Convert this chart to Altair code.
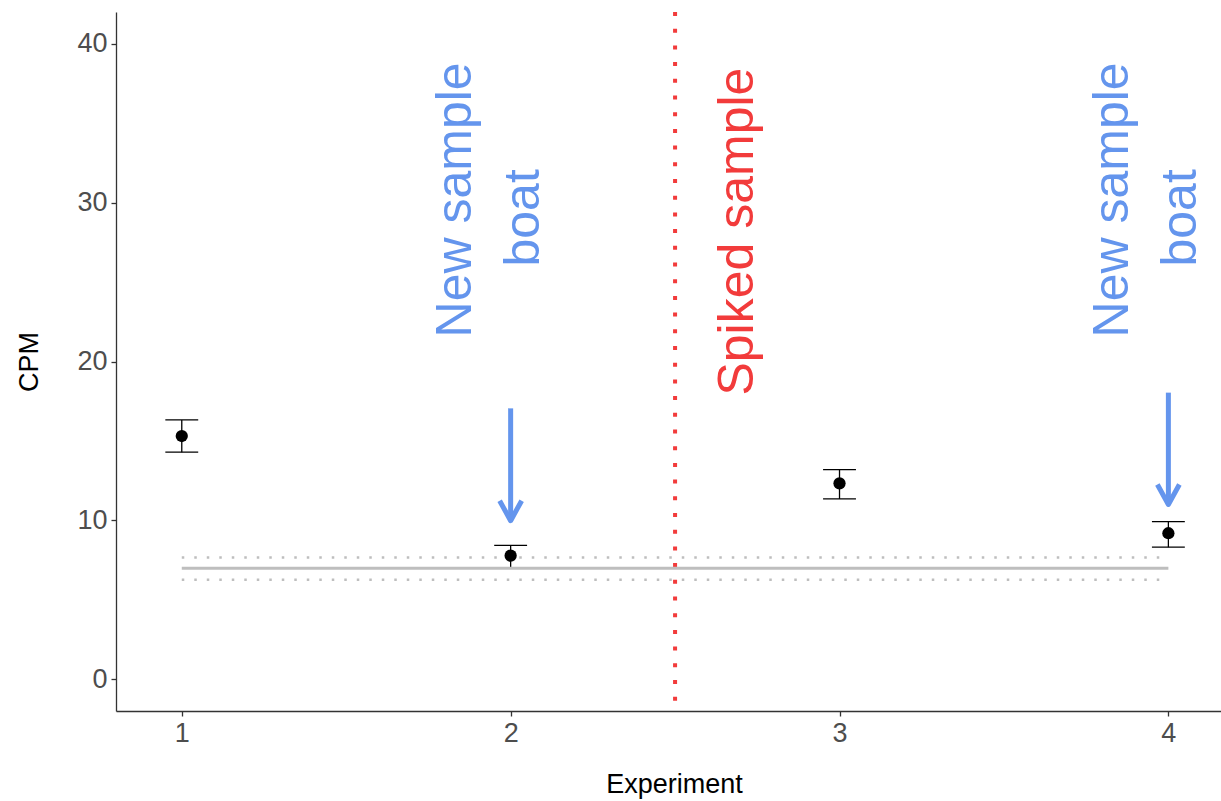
import altair as alt
import pandas as pd

# Measured CPM per experiment with error-bar limits
experiment = [1, 2, 3, 4]
cpm = [15.31, 7.78, 12.33, 9.19]
cpm_upper = [16.32, 8.43, 13.20, 9.92]
cpm_lower = [14.29, 7.00, 11.35, 8.31]

# Background reference band (mean and limits) spanning experiments 1-4
band_start = 1
band_end = 4
band_mean = 6.98
band_limits = [7.67, 6.26]

# Spiked sample marker
spike_x = 2.5

# Arrows pointing at the runs with a new sample boat
arrow_x = [2, 4]
arrow_from = [17.05, 18.04]
arrow_to = [9.98, 11.0]

# Annotation texts
label_text = ["New sample", "boat", "Spiked sample", "New sample", "boat"]
label_x = [1.878, 2.085, 2.736, 3.878, 4.085]
label_y = [30.17, 29.04, 28.18, 30.17, 29.04]
label_kind = ["boat", "boat", "spike", "boat", "boat"]

BLUE = "#6495ED"
RED = "#F23B3B"
GREY = "#BEBEBE"
FONT = "Liberation Sans"

xs = alt.Scale(domain=[0.8, 4.16], nice=False, zero=False)
ys = alt.Scale(domain=[-2, 42], nice=False, zero=False)

x_axis = alt.Axis(
    values=[1, 2, 3, 4], format="d", grid=False,
    titleX=558, titleY=81, titleAlign="center", titleBaseline="alphabetic",
)
y_axis = alt.Axis(
    values=[0, 10, 20, 30, 40], format="d", grid=False,
    titleX=-79, titleY=349.5, titleAngle=270, titleAlign="center",
    titleBaseline="alphabetic",
)


def X(field="x"):
    return alt.X(f"{field}:Q", scale=xs, axis=x_axis, title="Experiment")


def Y(field="y"):
    return alt.Y(f"{field}:Q", scale=ys, axis=y_axis, title="CPM")


points = pd.DataFrame({"x": experiment, "y": cpm, "lo": cpm_lower, "hi": cpm_upper})
caps = pd.DataFrame({
    "x": [e - 0.05 for e in experiment] * 2,
    "x2": [e + 0.05 for e in experiment] * 2,
    "y": cpm_upper + cpm_lower,
})
band_lines = pd.DataFrame({"x": [band_start] * 2, "x2": [band_end] * 2, "y": band_limits})
mean_line = pd.DataFrame({"x": [band_start], "x2": [band_end], "y": [band_mean]})
spike = pd.DataFrame({"x": [spike_x]})
arrows = pd.DataFrame({"x": arrow_x, "y": arrow_from, "y2": arrow_to})
heads = pd.DataFrame({"x": arrow_x, "y": arrow_to})
colors = {"boat": BLUE, "spike": RED}
labels = pd.DataFrame({
    "x": label_x, "y": label_y, "text": label_text,
    "color": [colors[k] for k in label_kind],
})

band_layer = alt.Chart(band_lines).mark_rule(
    color=GREY, strokeWidth=2.5, strokeDash=[2.5, 10]
).encode(x=X(), x2="x2:Q", y=Y())

spike_layer = alt.Chart(spike).mark_rule(
    color=RED, strokeWidth=4, strokeDash=[4, 12.7]
).encode(x=X())

stems = alt.Chart(points).mark_rule(color="black", strokeWidth=1.3).encode(
    x=X(), y=Y("lo"), y2="hi:Q"
)
cap_layer = alt.Chart(caps).mark_rule(color="black", strokeWidth=1.3).encode(
    x=X(), x2="x2:Q", y=Y()
)
dots = alt.Chart(points).mark_circle(color="black", size=150, opacity=1).encode(
    x=X(), y=Y()
)

mean_layer = alt.Chart(mean_line).mark_rule(color=GREY, strokeWidth=3).encode(
    x=X(), x2="x2:Q", y=Y()
)

shafts = alt.Chart(arrows).mark_rule(color=BLUE, strokeWidth=5).encode(
    x=X(), y=Y(), y2="y2:Q"
)
head_layer = alt.Chart(heads).mark_point(
    shape="M-0.55,-1L0,0L0.55,-1", filled=False, size=1600,
    strokeWidth=5, color=BLUE, opacity=1, strokeJoin="round",
).encode(x=X(), y=Y())

text_layer = alt.Chart(labels).mark_text(
    angle=270, fontSize=50, font=FONT, align="center", baseline="alphabetic"
).encode(
    x=X(), y=Y(), text="text:N", color=alt.Color("color:N", scale=None)
)

chart = alt.layer(
    band_layer, spike_layer, stems, cap_layer, dots, mean_layer,
    shafts, head_layer, text_layer,
).properties(
    width=1105, height=699,
    padding={"left": 116, "top": 12, "right": 0, "bottom": 90},
    autosize=alt.AutoSizeParams(type="none"),
    background="white",
).configure_view(
    stroke=None
).configure_axis(
    labelFont=FONT, labelFontSize=27, labelColor="#4D4D4D",
    titleFont=FONT, titleFontSize=27, titleColor="#000000", titleFontWeight="normal",
    domainColor="#333333", domainWidth=1.3,
    tickColor="#333333", tickWidth=1.3, tickSize=5, labelPadding=4,
)

chart.save("out.html", embed_options={"renderer": "svg", "actions": False})
